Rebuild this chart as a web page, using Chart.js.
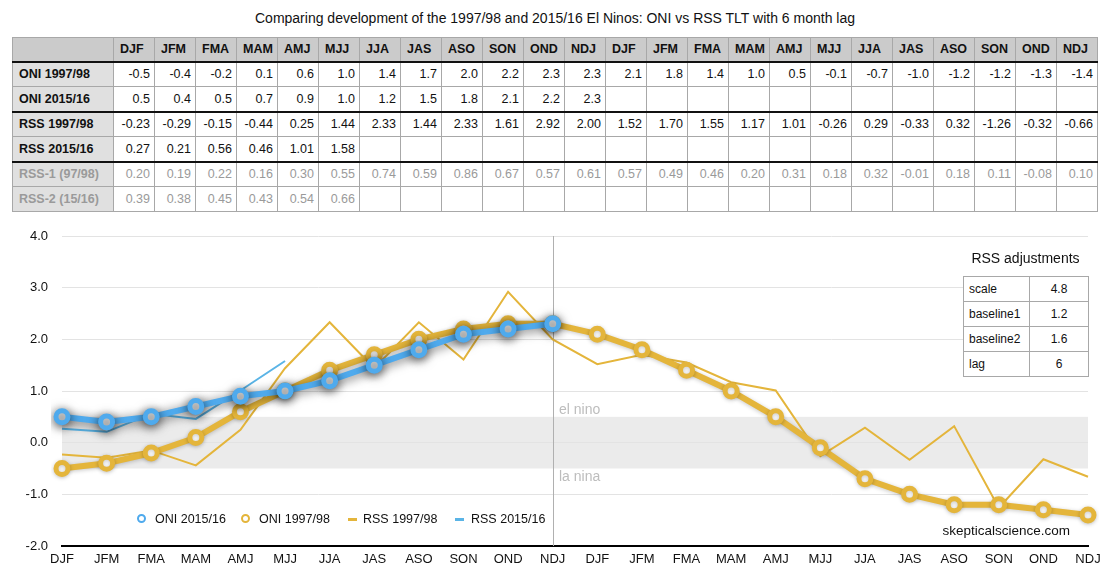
<!DOCTYPE html>
<html>
<head>
<meta charset="utf-8">
<script src="https://cdn.jsdelivr.net/npm/chart.js@4.4.0/dist/chart.umd.min.js"></script>
<style>
html,body{margin:0;padding:0;background:#fff;}
body{width:1110px;height:582px;position:relative;overflow:hidden;font-family:"Liberation Sans",Arial,Helvetica,sans-serif;color:#111;}
#title{position:absolute;left:0;width:1110px;top:10px;text-align:center;font-size:14px;line-height:16px;}
#tbl{position:absolute;left:12px;top:37px;border-collapse:collapse;table-layout:fixed;width:1086px;font-size:12.5px;}
#tbl td{border:1px solid #a8a8a8;padding:0 4px 0 5px;white-space:nowrap;overflow:hidden;text-align:right;}
#tbl tr{height:25px;}
#tbl tr.hdr{height:24px;}
#tbl tr.hdr td{background:#cbcbcb;font-weight:bold;text-align:left;padding-left:6px;}
#tbl td.lab{background:#e0e0e0;font-weight:bold;text-align:left;padding-left:6px;font-size:12.5px;}
#tbl tr.thick td{border-bottom:2px solid #111;}
#tbl tr.grey td{color:#9a9a9a;}
#wrap{position:absolute;left:0;top:220px;width:1110px;height:362px;}
.ring{position:absolute;width:5px;height:5px;border-radius:50%;border:2.5px solid;background:#fff;}
.dash{position:absolute;width:9px;height:3px;}
.lgt{position:absolute;font-size:12.5px;line-height:14px;top:512px;white-space:nowrap;}
#adjTitle{position:absolute;left:943px;width:165px;top:250px;text-align:center;font-size:14px;line-height:16px;}
#adj{position:absolute;left:963px;top:276px;width:125px;border-collapse:collapse;table-layout:fixed;font-size:12px;background:#fff;}
#adj td{border:1px solid #a8a8a8;height:24px;padding:0 5px;}
#adj td.v{text-align:center;}
#src{position:absolute;right:40px;top:523px;font-size:13.5px;line-height:16px;}
</style>
</head>
<body>
<div id="title">Comparing development of the 1997/98 and 2015/16 El Ninos: ONI vs RSS TLT with 6 month lag</div>
<table id="tbl"></table>
<div id="wrap"><canvas id="c" width="1110" height="362"></canvas></div>
<div class="ring" style="left:137px;top:514px;border-color:#4faaed"></div>
<div class="lgt" style="left:155px">ONI 2015/16</div>
<div class="ring" style="left:241px;top:514px;border-color:#e4b53b"></div>
<div class="lgt" style="left:259px">ONI 1997/98</div>
<div class="dash" style="left:348px;top:518px;background:#e4b53b"></div>
<div class="lgt" style="left:363px">RSS 1997/98</div>
<div class="dash" style="left:455px;top:518px;background:#5ab4e6"></div>
<div class="lgt" style="left:471px">RSS 2015/16</div>
<div id="adjTitle">RSS adjustments</div>
<table id="adj"></table>
<div id="src">skepticalscience.com</div>
<script>
const categories = ['DJF','JFM','FMA','MAM','AMJ','MJJ','JJA','JAS','ASO','SON','OND','NDJ','DJF','JFM','FMA','MAM','AMJ','MJJ','JJA','JAS','ASO','SON','OND','NDJ'];
const oni9798 = [-0.5,-0.4,-0.2,0.1,0.6,1.0,1.4,1.7,2.0,2.2,2.3,2.3,2.1,1.8,1.4,1.0,0.5,-0.1,-0.7,-1.0,-1.2,-1.2,-1.3,-1.4];
const oni1516 = [0.5,0.4,0.5,0.7,0.9,1.0,1.2,1.5,1.8,2.1,2.2,2.3];
const rss9798 = [-0.23,-0.29,-0.15,-0.44,0.25,1.44,2.33,1.44,2.33,1.61,2.92,2.00,1.52,1.70,1.55,1.17,1.01,-0.26,0.29,-0.33,0.32,-1.26,-0.32,-0.66];
const rss1516 = [0.27,0.21,0.56,0.46,1.01,1.58];
const rss1 = [0.20,0.19,0.22,0.16,0.30,0.55,0.74,0.59,0.86,0.67,0.57,0.61,0.57,0.49,0.46,0.20,0.31,0.18,0.32,-0.01,0.18,0.11,-0.08,0.10];
const rss2 = [0.39,0.38,0.45,0.43,0.54,0.66];
const adjLabels = ['scale','baseline1','baseline2','lag'];
const adjValues = ['4.8','1.2','1.6','6'];
const elNino = 0.5, laNina = -0.5;
const markerIndex = 11;

const BLUE = '#4faaed', GOLD = '#e4b53b', LBLUE = '#5ab4e6';

// build data table
const rows = [
  {label:'ONI 1997/98', data:oni9798, dec:1, cls:''},
  {label:'ONI 2015/16', data:oni1516, dec:1, cls:'thick'},
  {label:'RSS 1997/98', data:rss9798, dec:2, cls:''},
  {label:'RSS 2015/16', data:rss1516, dec:2, cls:'thick'},
  {label:'RSS-1 (97/98)', data:rss1, dec:2, cls:'grey'},
  {label:'RSS-2 (15/16)', data:rss2, dec:2, cls:'grey'}
];
let h = '<colgroup><col style="width:101px">' + categories.map(()=> '<col>').join('') + '</colgroup>';
h += '<tr class="hdr thick"><td></td>' + categories.map(c=>'<td>'+c+'</td>').join('') + '</tr>';
rows.forEach(r=>{
  h += '<tr class="'+r.cls+'"><td class="lab">'+r.label+'</td>' +
    categories.map((c,i)=>'<td>'+(r.data[i]!==undefined? r.data[i].toFixed(r.dec):'')+'</td>').join('') + '</tr>';
});
document.getElementById('tbl').innerHTML = h;
document.getElementById('adj').innerHTML = '<colgroup><col style="width:66px"><col style="width:59px"></colgroup>' +
  adjLabels.map((l,i)=>'<tr><td>'+l+'</td><td class="v">'+adjValues[i]+'</td></tr>').join('');

const bandPlugin = {
  id:'band',
  beforeDraw(chart){
    const {ctx, chartArea:a, scales:{y}} = chart;
    const t = y.getPixelForValue(elNino), b = y.getPixelForValue(laNina);
    ctx.save(); ctx.fillStyle = '#ebebeb'; ctx.fillRect(a.left, t, a.right-a.left, b-t); ctx.restore();
  },
  beforeDatasetsDraw(chart){
    const {ctx, chartArea:a, scales:{x,y}} = chart;
    const px = Math.round(x.getPixelForValue(markerIndex)) + 0.5;
    ctx.save();
    ctx.strokeStyle = '#b0b0b0'; ctx.lineWidth = 1;
    ctx.beginPath(); ctx.moveTo(px, a.top); ctx.lineTo(px, a.bottom); ctx.stroke();
    ctx.fillStyle = '#bdbdbd'; ctx.font = '14px "Liberation Sans", Arial, sans-serif';
    ctx.textAlign = 'left'; ctx.textBaseline = 'alphabetic';
    ctx.fillText('el nino', px + 5.5, y.getPixelForValue(elNino) - 3);
    ctx.fillText('la nina', px + 5.5, y.getPixelForValue(laNina) + 12);
    ctx.restore();
  }
};
const shadowPlugin = {
  id:'shadow',
  beforeDatasetDraw(chart, args){
    const ctx = chart.ctx;
    if (args.index === 0){ ctx.save(); ctx.shadowColor='rgba(0,0,0,0.6)'; ctx.shadowBlur=11; ctx.shadowOffsetY=2; }
    else if (args.index === 1){ ctx.save(); ctx.shadowColor='rgba(0,0,0,0.22)'; ctx.shadowBlur=4; ctx.shadowOffsetY=1; }
  },
  afterDatasetDraw(chart, args){ if (args.index <= 1) chart.ctx.restore(); }
};

const thick = (color)=>({borderColor:color, borderWidth:6, pointRadius:6, pointBorderWidth:5, pointBackgroundColor:'#fff', pointBorderColor:color, tension:0, fill:false});
new Chart(document.getElementById('c'), {
  type:'line',
  data:{labels:categories, datasets:[
    Object.assign({label:'ONI 2015/16', data:oni1516}, thick(BLUE)),
    Object.assign({label:'ONI 1997/98', data:oni9798}, thick(GOLD)),
    {label:'RSS 1997/98', data:rss9798, borderColor:GOLD, borderWidth:2, pointRadius:0, tension:0},
    {label:'RSS 2015/16', data:rss1516, borderColor:LBLUE, borderWidth:2, pointRadius:0, tension:0}
  ]},
  options:{
    responsive:false, animation:false,
    layout:{padding:{top:16, right:22, left:0, bottom:0}},
    plugins:{legend:{display:false}, tooltip:{enabled:false}},
    scales:{
      x:{grid:{display:false, drawTicks:false}, border:{display:true, color:'#000', width:2},
         ticks:{padding:6, color:'#111', font:{size:13, family:'"Liberation Sans", Arial, sans-serif'}, maxRotation:0, autoSkip:false},
         afterFit:s=>{s.height=36; s.paddingLeft=0; s.paddingRight=0;}},
      y:{min:-2, max:4, ticks:{stepSize:1, callback:v=>Number(v).toFixed(1), padding:14, color:'#111', font:{size:13, family:'"Liberation Sans", Arial, sans-serif'}},
         grid:{color:'#e3e3e3', drawTicks:false}, border:{display:false},
         afterFit:s=>{s.width=62; s.paddingTop=0; s.paddingBottom=0;}}
    }
  },
  plugins:[bandPlugin, shadowPlugin]
});
</script>
</body>
</html>
